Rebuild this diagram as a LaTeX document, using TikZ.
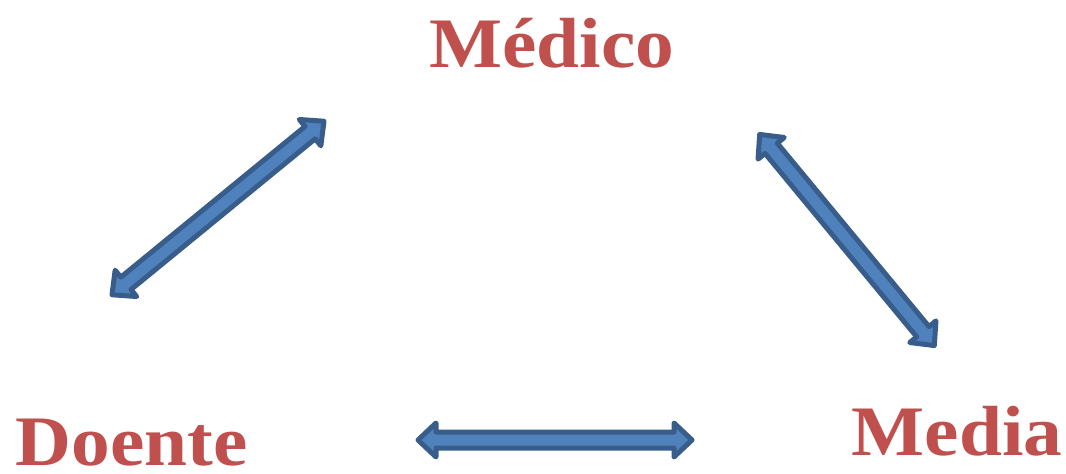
\documentclass[tikz,border=0pt]{standalone}
\usepackage{fontspec}
\newfontfamily\lblfont{Liberation Serif}[FakeStretch=1.09]
\definecolor{lblred}{HTML}{C0504D}
\definecolor{arrfill}{HTML}{4F81BD}
\definecolor{arrline}{HTML}{385D8A}
\tikzset{
  lbl/.style={text=lblred, font=\lblfont\fontsize{71}{80}\selectfont\bfseries, inner sep=0pt, anchor=base},
  blockarrow/.style={draw=arrline, fill=arrfill, line width=5pt, line join=round},
}
\newcommand{\dblarrow}{%
  (-137,0) -- (-119,-17) -- (-119,-8) -- (119,-8) -- (119,-17) -- (137,0)
  -- (119,17) -- (119,8) -- (-119,8) -- (-119,17) -- cycle}
\begin{document}
\begin{tikzpicture}[x=1pt,y=-1pt]
\useasboundingbox (0,0) rectangle (1066,474);
\node[lbl] (medico) at (552,67) {Médico};
\node[lbl] (doente) at (132,465) {Doente};
\node[lbl] (media) at (957,455) {Media};
\begin{scope}[shift={(218,208)}, rotate=39.3]
  \draw[blockarrow] \dblarrow;
\end{scope}
\begin{scope}[shift={(847,240)}, rotate=-50.4]
  \draw[blockarrow] \dblarrow;
\end{scope}
\begin{scope}[shift={(555,440)}]
  \draw[blockarrow] \dblarrow;
\end{scope}
\end{tikzpicture}
\end{document}
